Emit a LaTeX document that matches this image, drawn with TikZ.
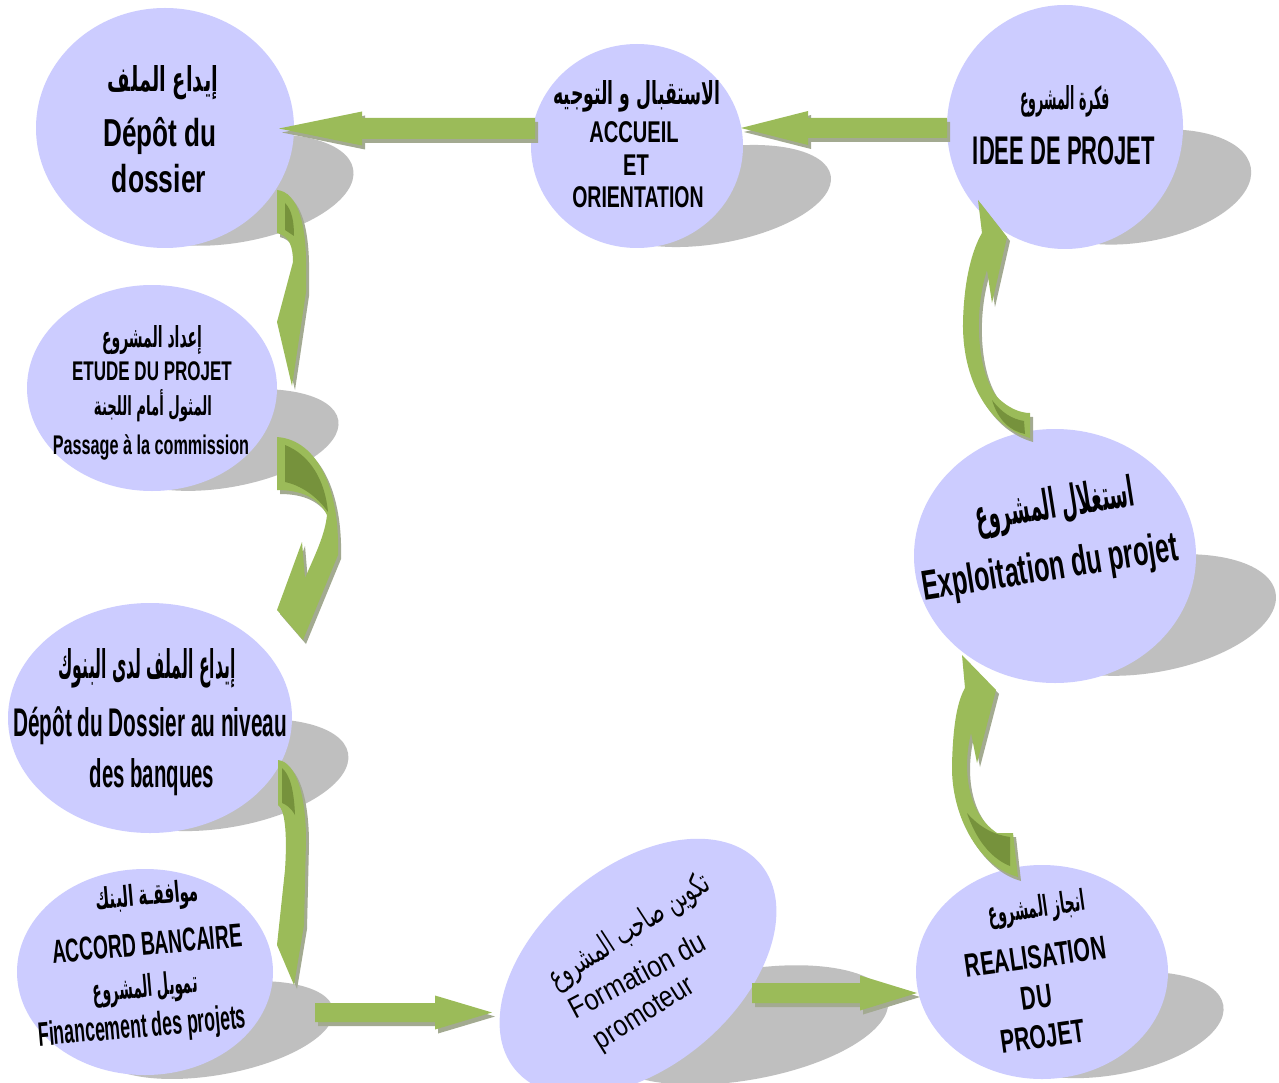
\documentclass[tikz,border=0pt]{standalone}
\usepackage{fontspec}
\usepackage{graphicx}
\usetikzlibrary{shapes.geometric,calc}
\setmainfont{Liberation Sans}
\newfontfamily\arabicfont[Script=Arabic]{DejaVu Sans}
\TeXXeTstate=1
\definecolor{nodefill}{RGB}{204,204,255}
\definecolor{nodeshadow}{RGB}{191,191,191}
\definecolor{agreen}{RGB}{155,187,89}
\definecolor{adark}{RGB}{118,146,60}
\definecolor{ashadow}{RGB}{163,170,145}
\newcommand\ARB[3]{\resizebox{#1pt}{#2pt}{\arabicfont\bfseries\beginR #3\endR}}
\newcommand\ARR[3]{\resizebox{#1pt}{#2pt}{\arabicfont\beginR #3\endR}}
\newcommand\LB[3]{\scalebox{#2}[1]{\fontsize{#1pt}{#1pt}\selectfont\bfseries #3}}
\newcommand\LR[3]{\scalebox{#2}[1]{\fontsize{#1pt}{#1pt}\selectfont #3}}
\newcommand\blockarrow[5]{%
  \fill ($(#1)+(0,-#4)$) -- ($(#2)!#3!(#1)+(0,-#4)$) -- ($(#2)!#3!(#1)+(0,-#5)$) -- (#2)
   -- ($(#2)!#3!(#1)+(0,#5)$) -- ($(#2)!#3!(#1)+(0,#4)$) -- ($(#1)+(0,#4)$) -- cycle;}
\newcommand\CI[1]{\fill[#1] (277,190) .. controls (298,192) and (307,225) .. (306,272) -- (306,292) -- (292,386) -- (277,322) -- (293,262) .. controls (293,246) and (289,236) .. (277,233) -- cycle;}
\newcommand\CII[1]{\fill[#1] (277,437) .. controls (318,440) and (340,490) .. (338,555) -- (303,640) -- (277,610) -- (302,542) -- (305,578) .. controls (315,555) and (325,535) .. (327,515) .. controls (318,497) and (300,490) .. (277,490) -- cycle;}
\newcommand\CIII[1]{\fill[#1] (278,760) .. controls (296,762) and (306,795) .. (306,840) -- (304,925) -- (294,985) -- (277,945) -- (285,870) .. controls (287,840) and (286,810) .. (278,805) -- cycle;}
\newcommand\CIV[1]{\fill[#1] (1030,438) .. controls (985,425) and (962,375) .. (963,322) .. controls (964,280) and (972,250) .. (982,233) -- (978,200) -- (1007,237) -- (992,303) -- (987,270) .. controls (974,310) and (976,370) .. (997,397) .. controls (1008,408) and (1020,413) .. (1030,413) -- cycle;}
\newcommand\CV[1]{\fill[#1] (1018,877) .. controls (978,866) and (951,815) .. (952,765) .. controls (953,722) and (958,700) .. (965,688) -- (962,655) -- (996,690) -- (977,763) -- (971,733) .. controls (961,775) and (970,815) .. (997,833) -- (1013,833) -- cycle;}
\begin{document}
\begin{tikzpicture}[x=1pt,y=-1pt,
  bub/.style={ellipse, fill=nodefill, draw=none, inner sep=0pt},
  shd/.style={ellipse, fill=nodeshadow, draw=none, inner sep=0pt, rotate=10},
  txt/.style={inner sep=0pt, anchor=base, text=black},
  ctxt/.style={inner sep=0pt, anchor=center, text=black}]
\useasboundingbox (0,0) rectangle (1279,1083);
\fill[white] (0,0) rectangle (1279,1083);
% shadows of the bubbles
\node[shd, minimum width=240pt, minimum height=105pt] (sh1) at (235,190) {};
\node[shd, minimum width=235pt, minimum height=95pt] (sh2) at (715,196) {};
\node[shd, minimum width=225pt, minimum height=110pt] (sh3) at (1140,187) {};
\node[shd, minimum width=230pt, minimum height=95pt] (sh4) at (225,440) {};
\node[shd, minimum width=250pt, minimum height=105pt] (sh5) at (225,775) {};
\node[shd, minimum width=240pt, minimum height=90pt] (sh6) at (215,1030) {};
\node[shd, minimum width=290pt, minimum height=110pt] (sh7) at (745,1025) {};
\node[shd, minimum width=230pt, minimum height=100pt] (sh8) at (1110,1025) {};
\node[shd, minimum width=255pt, minimum height=115pt] (sh9) at (1150,615) {};
% bubbles
\node[bub, minimum width=258pt, minimum height=240pt] (n1) at (165,128) {};
\node[bub, minimum width=212pt, minimum height=204pt] (n2) at (637,146) {};
\node[bub, minimum width=236pt, minimum height=244pt] (n3) at (1065,127) {};
\node[bub, minimum width=250pt, minimum height=206pt] (n4) at (152,388) {};
\node[bub, minimum width=284pt, minimum height=230pt] (n5) at (150,718) {};
\node[bub, minimum width=256pt, minimum height=206pt] (n6) at (145,972) {};
\node[bub, minimum width=320pt, minimum height=200pt, rotate=40] (n7) at (638,967) {};
\node[bub, minimum width=252pt, minimum height=214pt] (n8) at (1042,972) {};
\node[bub, minimum width=282pt, minimum height=254pt] (n9) at (1055,556) {};
% connector end points
\path (n2.center) ++(-102,-17.5) coordinate (a1from);
\path (n1.center) ++(114,0.5) coordinate (a1to);
\path (n3.center) ++(-118,1) coordinate (a2from);
\path (n2.center) ++(104,-18) coordinate (a2to);
\path (n6.center) ++(170,40.5) coordinate (a3from);
\path (n7.center) ++(-146,45.5) coordinate (a3to);
\path (n7.center) ++(114,26) coordinate (a4from);
\path (n8.center) ++(-125,21) coordinate (a4to);
% arrow shadows
\begin{scope}[fill=ashadow, transform canvas={shift={(3pt,-4pt)}}]
  \blockarrow{a1from}{a1to}{83pt}{10.5}{17}
  \blockarrow{a2from}{a2to}{67pt}{10}{17}
  \blockarrow{a3from}{a3to}{57pt}{9.5}{17}
  \blockarrow{a4from}{a4to}{57pt}{10}{17.5}
\end{scope}
\CI{ashadow, xshift=3pt, yshift=-4pt}
\CII{ashadow, xshift=3pt, yshift=-4pt}
\CIII{ashadow, xshift=3pt, yshift=-4pt}
\CIV{ashadow, xshift=3pt, yshift=-4pt}
\CV{ashadow, xshift=3pt, yshift=-4pt}
% arrows
\begin{scope}[fill=agreen]
  \blockarrow{a1from}{a1to}{83pt}{10.5}{17}
  \blockarrow{a2from}{a2to}{67pt}{10}{17}
  \blockarrow{a3from}{a3to}{57pt}{9.5}{17}
  \blockarrow{a4from}{a4to}{57pt}{10}{17.5}
\end{scope}
\CI{agreen}
\CII{agreen}
\CIII{agreen}
\CIV{agreen}
\CV{agreen}
% darker inner faces of the curved arrows
\fill[adark] (285,203) .. controls (292,210) and (294,222) .. (294,236) -- (285,230) -- cycle;
\fill[adark] (285,445) .. controls (310,455) and (325,480) .. (328,512) .. controls (317,496) and (300,485) .. (285,482) -- cycle;
\fill[adark] (282,768) .. controls (290,775) and (294,790) .. (295,815) .. controls (291,808) and (287,805) .. (282,803) -- cycle;
\fill[adark] (992,400) .. controls (1002,413) and (1012,419) .. (1024,421) -- (1025,434) .. controls (1010,431) and (998,420) .. (992,400) -- cycle;
\fill[adark] (967,813) .. controls (980,828) and (995,835) .. (1010,837) -- (1010,866) .. controls (995,860) and (978,845) .. (967,813) -- cycle;
% texts
\node[txt] (t1a) at (163,92) {\ARB{110}{26}{إيداع الملف}};
\node[txt] (t1b) at (160,147) {\LB{39}{0.67}{Dépôt du}};
\node[txt] (t1c) at (159,193) {\LB{39}{0.68}{dossier}};
\node[txt] (t2a) at (637,105) {\ARB{167}{24}{الاستقبال و التوجيه}};
\node[txt] (t2b) at (634,143) {\LB{30}{0.67}{ACCUEIL}};
\node[txt] (t2c) at (636,176) {\LB{30}{0.67}{ET}};
\node[txt] (t2d) at (638,208) {\LB{30}{0.65}{ORIENTATION}};
\node[txt] (t3a) at (1065,110) {\ARB{90}{24}{فكرة المشروع}};
\node[txt] (t3b) at (1064,165) {\LB{40}{0.55}{IDEE DE PROJET}};
\node[txt] (t4a) at (152,347) {\ARB{100}{22}{إعداد المشروع}};
\node[txt] (t4b) at (152,380) {\LB{27}{0.63}{ETUDE DU PROJET}};
\node[txt] (t4c) at (153,415) {\ARB{118}{26}{المثول أمام اللجنة}};
\node[txt] (t4d) at (151,454) {\LB{27}{0.6}{Passage à la commission}};
\node[txt] (t5a) at (147,678) {\ARB{177}{30}{إيداع الملف لدى البنوك}};
\node[txt] (t5b) at (150,736) {\LB{40}{0.52}{Dépôt du Dossier au niveau}};
\node[txt] (t5c) at (152,787) {\LB{40}{0.51}{des banques}};
\node[txt, rotate=5] (t6a) at (148,905) {\ARB{103}{22}{موافقـة البنك}};
\node[txt, rotate=5] (t6b) at (148,955) {\LB{33}{0.58}{ACCORD BANCAIRE}};
\node[txt, rotate=5] (t6c) at (146,997) {\ARB{105}{23}{تمويل المشروع}};
\node[txt, rotate=5] (t6d) at (143,1037) {\LB{34}{0.52}{Financement des projets}};
\node[ctxt, rotate=33] (t7a) at (630,932) {\ARR{185}{24}{تكوين صاحب المشروع}};
\node[ctxt, rotate=28] (t7b) at (637,975) {\LR{30}{0.85}{Formation du}};
\node[ctxt, rotate=32] (t7c) at (645,1015) {\LR{30}{0.82}{promoteur}};
\node[txt, rotate=8] (t8a) at (1038,917) {\ARB{97}{22}{انجاز المشروع}};
\node[txt, rotate=8] (t8b) at (1037,968) {\LB{33}{0.64}{REALISATION}};
\node[txt, rotate=8] (t8c) at (1038,1008) {\LB{33}{0.64}{DU}};
\node[txt, rotate=8] (t8d) at (1044,1048) {\LB{33}{0.64}{PROJET}};
\node[txt, rotate=9] (t9a) at (1057,518) {\ARB{160}{32}{استغلال المشروع}};
\node[txt, rotate=9] (t9b) at (1052,580) {\LB{42}{0.6}{Exploitation du projet}};
\end{tikzpicture}
\end{document}
